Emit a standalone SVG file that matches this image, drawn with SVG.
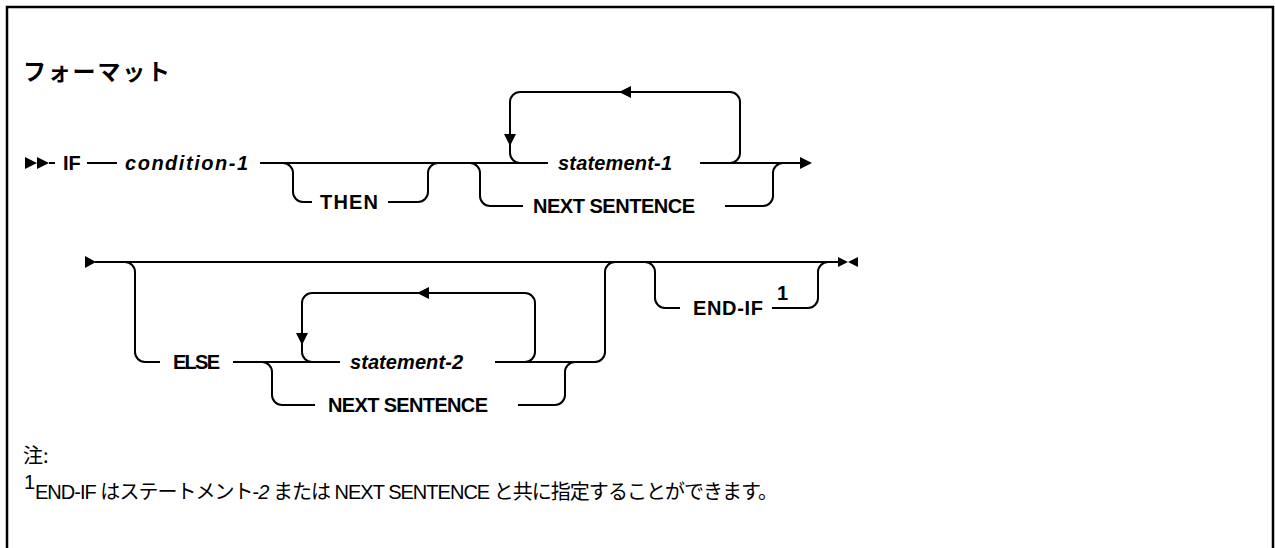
<svg xmlns="http://www.w3.org/2000/svg" width="1275" height="548" viewBox="0 0 1275 548">
<style>
.ln{fill:none;stroke:#000;stroke-width:2}
.ah{fill:#000;stroke:none}
.kw{font-family:"Liberation Sans",Arial,sans-serif;font-weight:bold;font-size:20px;fill:#000}
.var{font-family:"Liberation Sans",Arial,sans-serif;font-weight:bold;font-style:italic;font-size:20px;fill:#000}
.jp{font-family:"Noto Sans CJK JP",sans-serif;fill:#000}
.note{font-family:"Liberation Sans","Noto Sans CJK JP",sans-serif;font-size:20px;fill:#000}
</style>
<rect x="7" y="7" width="1266" height="600" fill="#fff" stroke="#000" stroke-width="2.5"/>
<text class="jp" x="23" y="80" font-size="23" font-weight="bold" textLength="147">フォーマット</text>

<g id="connectors">
  <!-- row 1 -->
  <path class="ah" d="M25,157 L37,163 L25,169 Z M37,157 L49,163 L37,169 Z"/>
  <path class="ln" d="M49,163 L55,163"/>
  <path class="ln" d="M87,163 L117,163"/>
  <path class="ln" d="M260,163 L548,163 M700,163 L800,163"/>
  <path class="ah" d="M812,163 L800,157 L800,169 Z"/>
  <!-- THEN branch -->
  <path class="ln" d="M283,163 A10,10 0 0 1 293,173 L293,192 A10,10 0 0 0 303,202 L312,202 M388,202 L418,202 A10,10 0 0 0 428,192 L428,173 A10,10 0 0 1 438,163"/>
  <!-- NEXT SENTENCE branch row 1 -->
  <path class="ln" d="M470,163 A10,10 0 0 1 480,173 L480,196 A10,10 0 0 0 490,206 L523,206 M725,206 L763,206 A10,10 0 0 0 773,196 L773,173 A10,10 0 0 1 783,163"/>
  <!-- loop 1 -->
  <path class="ln" d="M520,163 A10,10 0 0 1 510,153 L510,102 A10,10 0 0 1 520,92 L730,92 A10,10 0 0 1 740,102 L740,153 A10,10 0 0 1 730,163"/>
  <path class="ah" d="M619,92 L631,86 L631,98 Z"/>
  <path class="ah" d="M504,134 L516,134 L510,146 Z"/>

  <!-- row 2 -->
  <path class="ah" d="M85,256 L96,262 L85,268 Z"/>
  <path class="ln" d="M95,262 L838,262"/>
  <path class="ah" d="M838,257 L848,262 L838,267 Z M858,257 L848,262 L858,267 Z"/>
  <!-- ELSE branch -->
  <path class="ln" d="M125,262 A10,10 0 0 1 135,272 L135,352 A10,10 0 0 0 145,362 L160,362 M233,362 L340,362 M495,362 L595,362 A10,10 0 0 0 605,352 L605,272 A10,10 0 0 1 615,262"/>
  <!-- NEXT SENTENCE branch row 2 -->
  <path class="ln" d="M262,362 A10,10 0 0 1 272,372 L272,395 A10,10 0 0 0 282,405 L315,405 M518,405 L555,405 A10,10 0 0 0 565,395 L565,372 A10,10 0 0 1 575,362"/>
  <!-- loop 2 -->
  <path class="ln" d="M312,362 A10,10 0 0 1 302,352 L302,303 A10,10 0 0 1 312,293 L525,293 A10,10 0 0 1 535,303 L535,352 A10,10 0 0 1 525,362"/>
  <path class="ah" d="M417,293 L429,287 L429,299 Z"/>
  <path class="ah" d="M296,333 L308,333 L302,345 Z"/>
  <!-- END-IF branch -->
  <path class="ln" d="M645,262 A10,10 0 0 1 655,272 L655,298 A10,10 0 0 0 665,308 L680,308 M772,308 L808,308 A10,10 0 0 0 818,298 L818,272 A10,10 0 0 1 828,262"/>
</g>

<g id="n-if"><text class="kw" x="63" y="170">IF</text></g>
<g id="n-cond1"><text class="var" x="125" y="170" textLength="123">condition-1</text></g>
<g id="n-then"><text class="kw" x="320" y="209" textLength="58">THEN</text></g>
<g id="n-stmt1"><text class="var" x="558" y="170" textLength="114">statement-1</text></g>
<g id="n-next1"><text class="kw" x="533" y="213" textLength="162">NEXT SENTENCE</text></g>
<g id="n-else"><text class="kw" x="173" y="369" textLength="47">ELSE</text></g>
<g id="n-stmt2"><text class="var" x="350" y="369" textLength="113">statement-2</text></g>
<g id="n-next2"><text class="kw" x="328" y="412" textLength="160">NEXT SENTENCE</text></g>
<g id="n-endif"><text class="kw" x="693" y="315" textLength="70">END-IF</text><text class="kw" x="777" y="300" font-size="17">1</text></g>

<text class="jp" x="23" y="463" font-size="20">注:</text>
<text class="note" x="24" y="489" font-size="13">1</text>
<text class="note" x="35" y="499" textLength="743">END-IF はステートメント-<tspan font-style="italic">2</tspan> または NEXT SENTENCE と共に指定することができます。</text>
</svg>
